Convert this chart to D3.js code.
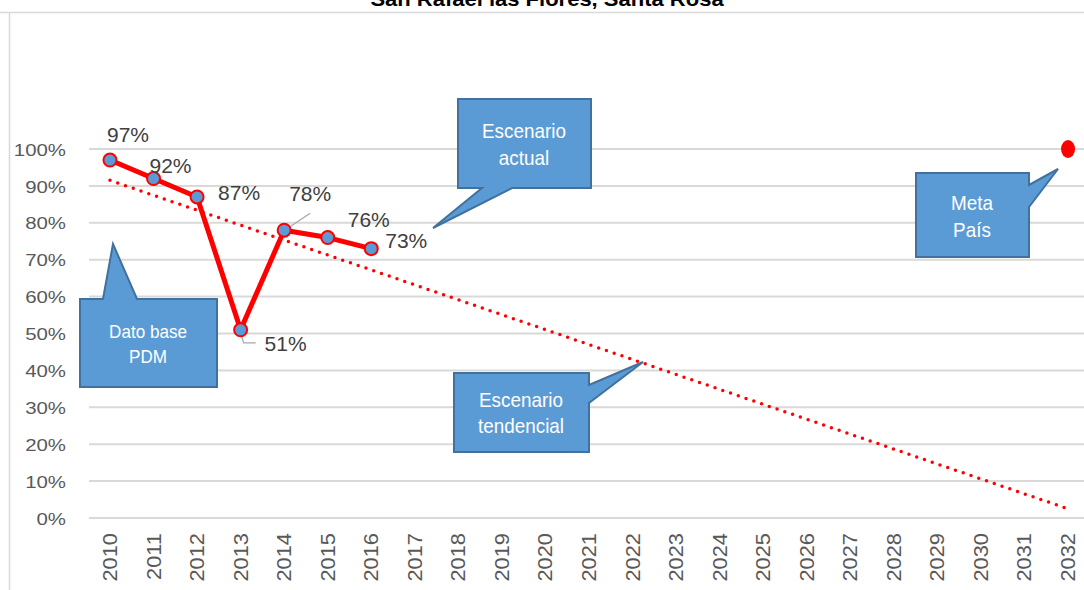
<!DOCTYPE html>
<html>
<head>
<meta charset="utf-8">
<script src="https://cdn.jsdelivr.net/npm/d3@7"></script>
<style>
  body { margin: 0; background: #fff; }
  svg text { font-family: "Liberation Sans", Arial, sans-serif; }
</style>
</head>
<body>
<div id="chart"></div>
<script>
// data
var years = d3.range(2010, 2033).map(String);
var actualYears = ["2010", "2011", "2012", "2013", "2014", "2015", "2016"];
var actualValues = [0.97, 0.92, 0.87, 0.51, 0.78, 0.76, 0.73];
var trendYears = ["2010", "2032"];
var trendValues = [0.915, 0.025];
var metaYear = ["2032"];
var metaValue = [1.0];
var yTicks = [0, 0.1, 0.2, 0.3, 0.4, 0.5, 0.6, 0.7, 0.8, 0.9, 1.0];

// label offsets (layout only)
var labelOffsets = [[-3, -25], [-4, -13], [21, -4], [24, 14], [5, -36], [20, -18], [14, -8]];

var svgWidth = 1084, svgHeight = 590;
var svg = d3.select("#chart").append("svg")
  .attr("width", svgWidth)
  .attr("height", svgHeight);

// outer frame
svg.append("line").attr("x1", 0).attr("x2", svgWidth).attr("y1", 12.5).attr("y2", 12.5)
  .attr("stroke", "#d9d9d9").attr("stroke-width", 1.5);
svg.append("line").attr("x1", 9.5).attr("x2", 9.5).attr("y1", 12).attr("y2", svgHeight)
  .attr("stroke", "#d9d9d9").attr("stroke-width", 1.5);

// title (cut at top in the original too)
svg.append("text")
  .attr("transform", "translate(547,6) scale(1.1,1)")
  .attr("text-anchor", "middle")
  .attr("font-weight", "bold")
  .attr("font-size", 20)
  .attr("fill", "#000")
  .text("San Rafael las Flores, Santa Rosa");

var x = d3.scaleBand().domain(years).range([88.2, 1089.8]);
var y = d3.scaleLinear().domain([0, 1]).range([518, 149]);
var cx = function(yr) { return x(yr) + x.bandwidth() / 2; };

// gridlines
svg.append("g").selectAll("line").data(yTicks).enter().append("line")
  .attr("x1", 89).attr("x2", svgWidth)
  .attr("y1", d => y(d)).attr("y2", d => y(d))
  .attr("stroke", "#d9d9d9").attr("stroke-width", 2);

// y axis labels
var yAxis = d3.axisLeft(y).tickValues(yTicks).tickFormat(d3.format(".0%")).tickSize(0).tickPadding(0);
var gy = svg.append("g").attr("transform", "translate(66,0)").call(yAxis);
gy.select(".domain").remove();
gy.selectAll("text").attr("font-size", 17).attr("fill", "#595959")
  .attr("font-family", "Liberation Sans, Arial, sans-serif")
  .attr("x", 0).attr("dy", "0.36em")
  .attr("transform", "scale(1.2,1)");

// x axis labels
var xAxis = d3.axisBottom(x).tickSize(0).tickPadding(0);
var gx = svg.append("g").attr("transform", "translate(0,533)").call(xAxis);
gx.select(".domain").remove();
gx.selectAll("text")
  .attr("font-size", 19.5).attr("fill", "#595959")
  .attr("font-family", "Liberation Sans, Arial, sans-serif")
  .attr("text-anchor", "end")
  .attr("transform", "rotate(-90) scale(1.12,1)")
  .attr("x", 0).attr("y", 0).attr("dy", "0.36em");

// trend (dotted)
svg.append("path")
  .datum(trendYears.map((d, i) => [d, trendValues[i]]))
  .attr("d", d3.line().x(d => cx(d[0])).y(d => y(d[1])))
  .attr("fill", "none").attr("stroke", "#ff0000")
  .attr("stroke-width", 3.5).attr("stroke-linecap", "round")
  .attr("stroke-dasharray", "0,8.2");

// actual line
var pts = actualYears.map((d, i) => [d, actualValues[i]]);
svg.append("path")
  .datum(pts)
  .attr("d", d3.line().x(d => cx(d[0])).y(d => y(d[1])))
  .attr("fill", "none").attr("stroke", "#ff0000")
  .attr("stroke-width", 5).attr("stroke-linejoin", "round");

// leader lines for 51% and 78%
var lead = svg.append("g").attr("stroke", "#a6a6a6").attr("stroke-width", 1.2).attr("fill", "none");
lead.append("path").attr("d", `M${cx("2013")},${y(0.51) + 3} L${cx("2013") + 3},${y(0.51) + 13} L${cx("2013") + 15},${y(0.51) + 13}`);
lead.append("path").attr("d", `M${cx("2014") + 2},${y(0.78) - 1} L${cx("2014") + 26},${y(0.78) - 17}`);

svg.append("g").selectAll("circle").data(pts).enter().append("circle")
  .attr("cx", d => cx(d[0])).attr("cy", d => y(d[1])).attr("r", 6.5)
  .attr("fill", "#5b9bd5").attr("stroke", "#ff0000").attr("stroke-width", 2);

// data labels
svg.append("g").selectAll("text").data(pts).enter().append("text")
  .attr("transform", (d, i) => `translate(${cx(d[0]) + labelOffsets[i][0]},${y(d[1]) + labelOffsets[i][1]}) scale(1.05,1)`)
  .attr("dy", "0.36em")
  .attr("font-size", 20).attr("fill", "#404040")
  .text(d => d3.format(".0%")(d[1]));

// meta pais point
svg.append("g").selectAll("ellipse").data(metaYear.map((d, i) => [d, metaValue[i]])).enter().append("ellipse")
  .attr("cx", d => cx(d[0])).attr("cy", d => y(d[1]))
  .attr("rx", 7).attr("ry", 9).attr("fill", "#ff0000");

// callouts
function callout(pathPts, lines, tx, ty, fs, sx, lh) {
  var g = svg.append("g");
  g.append("path")
    .attr("d", "M" + pathPts.map(p => p.join(",")).join("L") + "Z")
    .attr("fill", "#5b9bd5").attr("stroke", "#41719c").attr("stroke-width", 2);
  g.selectAll("text").data(lines).enter().append("text")
    .attr("transform", (d, i) => `translate(${tx},${ty + i * lh}) scale(${sx},1)`)
    .attr("text-anchor", "middle").attr("font-size", fs).attr("fill", "#fff")
    .text(d => d);
}

callout([[458, 99], [591, 99], [591, 188], [512, 188], [433, 228], [482, 188], [458, 188]],
  ["Escenario", "actual"], 524, 138, 21, 0.9, 27);
callout([[916, 173], [1029, 173], [1029, 185], [1058, 169], [1029, 207], [1029, 257], [916, 257]],
  ["Meta", "País"], 972, 210, 21, 0.9, 27);
callout([[80, 299], [103, 299], [113, 244], [137, 299], [217, 299], [217, 387], [80, 387]],
  ["Dato base", "PDM"], 148, 338, 18, 0.95, 25);
callout([[454, 373], [589, 373], [589, 385], [643, 362], [589, 403], [589, 452], [454, 452]],
  ["Escenario", "tendencial"], 521, 407, 21, 0.9, 26);
</script>
</body>
</html>
